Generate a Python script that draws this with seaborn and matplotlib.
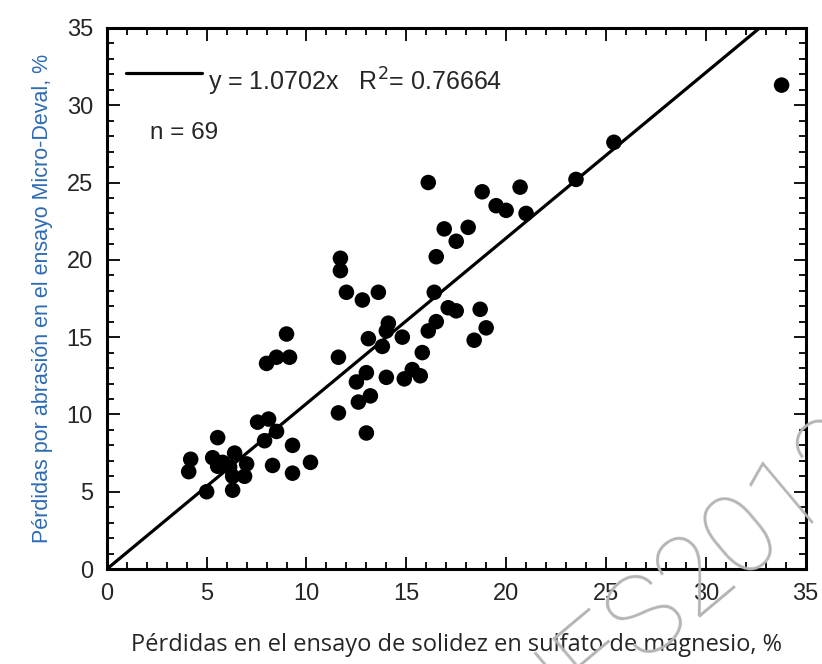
import numpy as np
import matplotlib
matplotlib.use("Agg")
import matplotlib.pyplot as plt
from matplotlib.ticker import MultipleLocator
import seaborn as sns

# Pérdidas en sulfato de magnesio (%) vs pérdidas Micro-Deval (%)
sulfato = [
    9.0, 8.0, 8.5, 9.15,
    7.55, 8.1, 8.5, 7.9, 5.55, 9.3, 4.2, 4.1, 5.3, 6.4, 5.55, 6.15,
    7.0, 6.9, 6.3, 8.3, 9.3, 10.2, 5.0, 6.3, 5.8,
    16.1, 18.8, 20.7, 19.5, 20.0, 21.0, 16.9, 18.1, 17.5, 16.5,
    11.7, 11.7, 12.0, 12.8, 13.6, 16.4, 17.1, 17.5, 18.7, 19.0,
    18.4, 16.5, 16.1, 14.1, 14.0, 13.1, 13.8, 14.8, 11.6, 15.8,
    13.0, 12.5, 14.0, 14.9, 15.3, 15.7, 12.6, 13.2, 11.6, 13.0,
    23.5, 25.4, 33.8,
]
microdeval = [
    15.2, 13.3, 13.7, 13.7,
    9.5, 9.7, 8.9, 8.3, 8.5, 8.0, 7.1, 6.3, 7.2, 7.5, 6.65, 6.6,
    6.8, 6.0, 6.0, 6.7, 6.2, 6.9, 5.0, 5.1, 6.9,
    25.0, 24.4, 24.7, 23.5, 23.2, 23.0, 22.0, 22.1, 21.2, 20.2,
    20.1, 19.3, 17.9, 17.4, 17.9, 17.9, 16.9, 16.7, 16.8, 15.6,
    14.8, 16.0, 15.4, 15.9, 15.4, 14.9, 14.4, 15.0, 13.7, 14.0,
    12.7, 12.1, 12.4, 12.3, 12.9, 12.5, 10.8, 11.2, 10.1, 8.8,
    25.2, 27.6, 31.3,
]
slope = 1.0702
fit_x = [0, 35]

sns.set_theme(style="white")
plt.rcParams["font.family"] = ["Liberation Sans", "DejaVu Sans"]

fig = plt.figure(figsize=(8.22, 6.64), dpi=100)
ax = fig.add_axes([0.130, 0.143, 0.850, 0.815])

fit_y = [slope * v for v in fit_x]
sns.lineplot(x=fit_x, y=fit_y, ax=ax, color="black", linewidth=2.3)
sns.scatterplot(x=sulfato, y=microdeval, ax=ax, color="black", s=125,
                edgecolor="none", zorder=3)

ax.set_xlim(0, 35)
ax.set_ylim(0, 35)
ax.xaxis.set_major_locator(MultipleLocator(5))
ax.yaxis.set_major_locator(MultipleLocator(5))
ax.xaxis.set_minor_locator(MultipleLocator(1))
ax.yaxis.set_minor_locator(MultipleLocator(1))
ax.tick_params(which="both", direction="in", top=True, right=True,
               bottom=True, left=True, color="black", width=1.3)
ax.tick_params(which="major", length=9, labelsize=17, pad=10)
ax.tick_params(which="minor", length=5)
for sp in ax.spines.values():
    sp.set_color("black")
    sp.set_linewidth(2.2)

# legend-like annotation
ax.plot([0.95, 4.75], [32.1, 32.1], color="black", linewidth=2.3)
ax.text(5.05, 31.5, "y = 1.0702x   R$^2$= 0.76664", fontsize=18,
        va="center", ha="left")
ax.text(2.15, 28.2, "n = 69", fontsize=17.5, va="center", ha="left")

ax.set_xlabel("Pérdidas en el ensayo de solidez en sulfato de magnesio, %",
              fontsize=17, family=["Open Sans", "DejaVu Sans"], labelpad=20)
ax.set_ylabel("Pérdidas por abrasión en el ensayo Micro-Deval, %",
              fontsize=15.5, color="#2f6bb3", labelpad=10)

# watermark
fig.text(0.834, 0.125, "NES2012", fontsize=80, rotation=40,
         rotation_mode="anchor", ha="center", va="center",
         color="#b5b5b5", family=["Roboto", "DejaVu Sans"], fontweight="light",
         zorder=10)

fig.savefig("out.png", dpi=100)
